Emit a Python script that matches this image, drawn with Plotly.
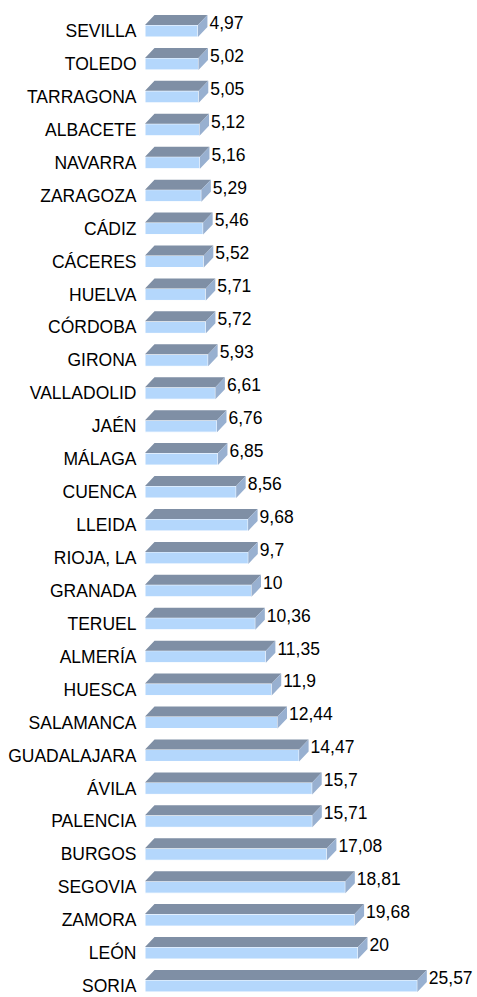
import plotly.graph_objects as go

provinces = ["SEVILLA", "TOLEDO", "TARRAGONA", "ALBACETE", "NAVARRA", "ZARAGOZA", "CÁDIZ",
             "CÁCERES", "HUELVA", "CÓRDOBA", "GIRONA", "VALLADOLID", "JAÉN", "MÁLAGA",
             "CUENCA", "LLEIDA", "RIOJA, LA", "GRANADA", "TERUEL", "ALMERÍA", "HUESCA",
             "SALAMANCA", "GUADALAJARA", "ÁVILA", "PALENCIA", "BURGOS", "SEGOVIA",
             "ZAMORA", "LEÓN", "SORIA"]
values = [4.97, 5.02, 5.05, 5.12, 5.16, 5.29, 5.46, 5.52, 5.71, 5.72, 5.93, 6.61, 6.76, 6.85,
          8.56, 9.68, 9.7, 10, 10.36, 11.35, 11.9, 12.44, 14.47, 15.7, 15.71, 17.08, 18.81,
          19.68, 20, 25.57]

W, H = 477, 997
LEFT = 145
PX_PER_UNIT = 10.65
ROW0 = 31.0
ROW_STEP = 32.93
FRONT_PX = 12.0
DX_PX, DY_PX = 9.5, 10.0
FONT = "Liberation Sans, Arial, sans-serif"

n = len(values)
pos = list(range(n))
x_max = (W - LEFT) / PX_PER_UNIT
y_top = -ROW0 / ROW_STEP
y_bot = (H - ROW0) / ROW_STEP
half = FRONT_PX / ROW_STEP / 2
dx = DX_PX / PX_PER_UNIT
dy = DY_PX / ROW_STEP

FRONT = "#b4d7fc"
TOP = "#7f8fa5"
SIDE = "#98b0d0"

tx, ty, sx, sy = [], [], [], []
for i, v in zip(pos, values):
    ft = i - half
    fb = i + half
    tx += [0, v, v + dx, dx, 0, None]
    ty += [ft, ft, ft - dy, ft - dy, ft, None]
    sx += [v, v + dx, v + dx, v, v, None]
    sy += [ft, ft - dy, fb - dy, fb, ft, None]

fig = go.Figure()
fig.add_trace(go.Scatter(x=tx, y=ty, mode="lines", fill="toself", fillcolor=TOP,
                         line=dict(color="rgba(0,0,0,0)", width=0), hoverinfo="skip"))
fig.add_trace(go.Scatter(x=sx, y=sy, mode="lines", fill="toself", fillcolor=SIDE,
                         line=dict(color="rgba(0,0,0,0)", width=0), hoverinfo="skip"))
fig.add_trace(go.Bar(x=values, y=pos, orientation="h", width=2 * half, base=0,
                     marker=dict(color=FRONT, line=dict(color="white", width=1)),
                     hoverinfo="skip"))
fig.add_trace(go.Scatter(x=[v + dx + 2.0 / PX_PER_UNIT for v in values],
                         y=[i - half - 0.5 / ROW_STEP for i in pos], mode="text",
                         text=["{:g}".format(v).replace(".", ",") for v in values],
                         textposition="middle right",
                         textfont=dict(family=FONT, size=17.5, color="#000000"),
                         hoverinfo="skip", cliponaxis=False))

fig.update_layout(
    width=W, height=H,
    margin=dict(l=LEFT, r=0, t=0, b=0, autoexpand=False),
    paper_bgcolor="white", plot_bgcolor="white",
    showlegend=False,
    xaxis=dict(range=[0, x_max], visible=False, fixedrange=True),
    yaxis=dict(range=[y_bot, y_top], tickmode="array", tickvals=pos, ticktext=provinces,
               ticks="outside", ticklen=4, tickcolor="rgba(0,0,0,0)", automargin=False,
               showgrid=False, zeroline=False, showline=False, fixedrange=True,
               tickfont=dict(family=FONT, size=17.5, color="#000000")),
)
fig.write_html("out.html", config={"displayModeBar": False},
               post_script="document.body.style.margin='0';document.body.style.overflow='hidden';")
